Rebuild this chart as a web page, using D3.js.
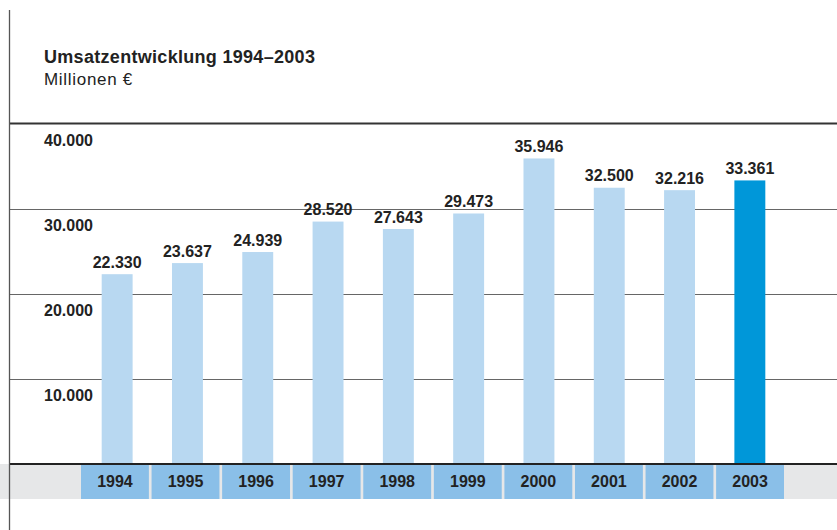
<!DOCTYPE html>
<html><head><meta charset="utf-8">
<script src="https://cdn.jsdelivr.net/npm/d3@7"></script>
<style>
html,body{margin:0;padding:0;background:#fff;}
svg{display:block;font-family:"Liberation Sans",Arial,Helvetica,sans-serif;}
</style></head>
<body>
<svg id="chart" width="837" height="530"></svg>
<script>
const years = ["1994","1995","1996","1997","1998","1999","2000","2001","2002","2003"];
const revenue = [22330,23637,24939,28520,27643,29473,35946,32500,32216,33361];
const yTicks = [10000,20000,30000,40000];
const title = "Umsatzentwicklung 1994–2003";
const subtitle = "Millionen €";
const highlightYear = "2003";

const svg = d3.select("#chart");
const W = 837, H = 530;
const y = d3.scaleLinear().domain([0,40000]).range([464,124]);
const xBar = d3.scaleBand().domain(years).range([82,785]).paddingInner(0.56).paddingOuter(0.28);
const xCell = d3.scaleBand().domain(years).range([81,784]).paddingInner(0.038).paddingOuter(0);
const fmt = v => d3.format(",")(v).replace(/,/g,".");

// bottom grey band
svg.append("rect").attr("x",0).attr("y",y(0)).attr("width",W).attr("height",35).attr("fill","#e6e7e8");
// year cells
svg.append("g").selectAll("rect").data(years).join("rect")
  .attr("x",d=>xCell(d)).attr("y",y(0)).attr("width",xCell.bandwidth()).attr("height",35)
  .attr("fill","#8abfe8");
svg.append("g").selectAll("text").data(years).join("text")
  .attr("x",d=>xCell(d)+xCell.bandwidth()/2).attr("y",486.5)
  .attr("text-anchor","middle").attr("font-size","16px").attr("font-weight","bold").attr("fill","#222")
  .text(d=>d);

// gridlines
svg.append("g").selectAll("line").data(yTicks.filter(t=>t<40000)).join("line")
  .attr("x1",10).attr("x2",W).attr("y1",d=>Math.round(y(d))+0.5).attr("y2",d=>Math.round(y(d))+0.5)
  .attr("stroke","#666").attr("stroke-width",1);
// top line
svg.append("line").attr("x1",10).attr("x2",W).attr("y1",y(40000)-0.5).attr("y2",y(40000)-0.5)
  .attr("stroke","#333").attr("stroke-width",2);

// y labels
svg.append("g").selectAll("text").data(yTicks).join("text")
  .attr("x",44).attr("y",d=>y(d)+21.5)
  .attr("font-size","16px").attr("font-weight","bold").attr("fill","#222")
  .text(d=>fmt(d));

// bars
svg.append("g").selectAll("rect").data(years).join("rect")
  .attr("x",d=>xBar(d)).attr("width",xBar.bandwidth())
  .attr("y",(d,i)=>y(revenue[i])).attr("height",(d,i)=>y(0)-y(revenue[i]))
  .attr("fill",d=>d===highlightYear?"#0097d9":"#b8d8f1");
// value labels
svg.append("g").selectAll("text").data(years).join("text")
  .attr("x",d=>xBar(d)+xBar.bandwidth()/2).attr("y",(d,i)=>y(revenue[i])-6.5)
  .attr("text-anchor","middle").attr("font-size","16px").attr("font-weight","bold").attr("fill","#222")
  .text((d,i)=>fmt(revenue[i]));

// baseline
svg.append("line").attr("x1",10).attr("x2",W).attr("y1",y(0)).attr("y2",y(0))
  .attr("stroke","#222").attr("stroke-width",2);

// left vertical line
svg.append("line").attr("x1",9.5).attr("x2",9.5).attr("y1",10).attr("y2",H)
  .attr("stroke","#555").attr("stroke-width",1.3);

// title
svg.append("text").attr("x",44).attr("y",63).attr("font-size","18px").attr("font-weight","bold")
  .attr("letter-spacing","0.3px").attr("fill","#222").text(title);
svg.append("text").attr("x",44).attr("y",85).attr("font-size","17px")
  .attr("letter-spacing","0.7px").attr("fill","#222").text(subtitle);
</script>
</body></html>
